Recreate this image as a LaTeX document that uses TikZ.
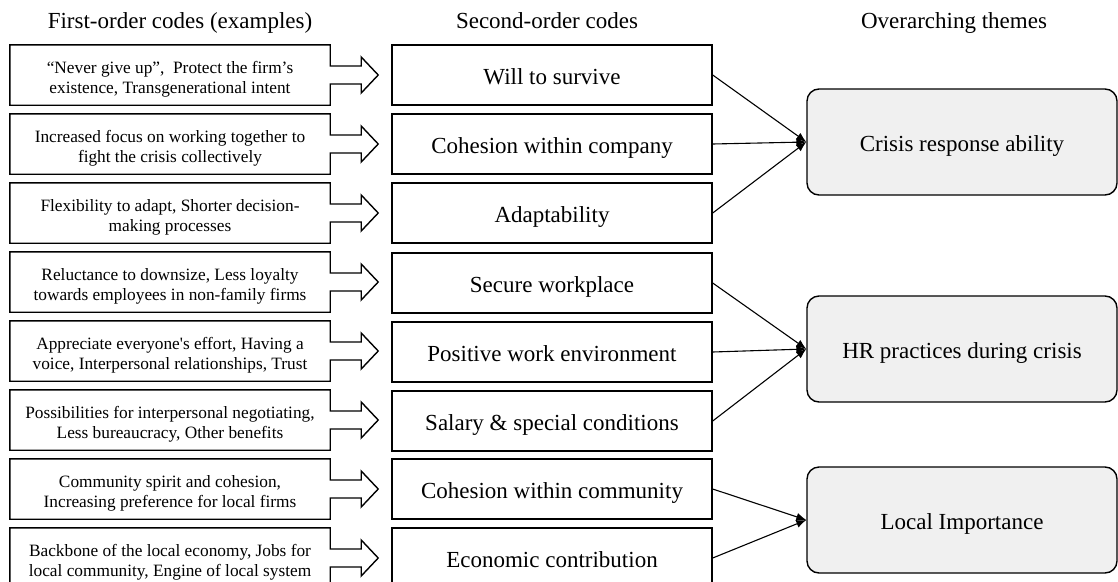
\documentclass[tikz,border=0pt]{standalone}
\usepackage{fontspec}
\setmainfont{Liberation Serif}
\usetikzlibrary{calc,arrows.meta}
\definecolor{themefill}{HTML}{F0F0F0}
\begin{document}
\begin{tikzpicture}[x=1pt,y=-1pt,
  firstbox/.style={minimum width=320pt,minimum height=60pt,inner sep=0pt},
  firsttext/.style={inner sep=0pt,align=center,font=\fontsize{17.3}{20}\selectfont},
  secbox/.style={draw,line width=1.4pt,minimum width=320pt,minimum height=60pt,inner sep=0pt,text height=23pt,text depth=5pt,font=\fontsize{23}{26}\selectfont},
  themebox/.style={draw,line width=1.4pt,fill=themefill,rounded corners=12pt,minimum width=310pt,minimum height=106pt,inner sep=0pt,text height=23pt,text depth=5pt,font=\fontsize{23}{26}\selectfont},
  headtext/.style={font=\fontsize{23}{26}\selectfont,inner sep=0pt,text height=22pt,text depth=5pt},
  link/.style={line width=1.1pt,-{Latex[length=10pt,width=8pt]}},
  outline/.style={line width=1.4pt,line join=miter}]
\useasboundingbox (0,0) rectangle (1118,581);
\clip (0,0) rectangle (1118,581);

% headers
\node[headtext] (h1) at (180,20) {First-order codes (examples)};
\node[headtext] (h2) at (547,20) {Second-order codes};
\node[headtext] (h3) at (954,20) {Overarching themes};

% first-order codes (block arrows)
\foreach \n/\y in {f1/75,f2/144,f3/213,f4/282,f5/351,f6/420,f7/489,f8/558}{
  \node[firstbox] (\n) at (170,\y) {};
  \draw[outline] (\n.north west) -- (\n.north east) -- ($(\n.east)+(0,-9)$)
    -- ++(31,0) -- ++(0,-9) -- ++(17,18) -- ++(-17,18) -- ++(0,-9) -- ++(-31,0)
    -- (\n.south east) -- (\n.south west) -- cycle;
}
\node[firsttext] (ft1) at ($(f1)+(0,4.5)$) {``Never give up'',\ \ Protect the firm's\\existence, Transgenerational intent};
\node[firsttext] (ft2) at ($(f2)+(0,4.5)$) {Increased focus on working together to\\fight the crisis collectively};
\node[firsttext] (ft3) at ($(f3)+(0,4.5)$) {Flexibility to adapt, Shorter decision-\\making processes};
\node[firsttext] (ft4) at ($(f4)+(0,4.5)$) {Reluctance to downsize, Less loyalty\\towards employees in non-family firms};
\node[firsttext] (ft5) at ($(f5)+(0,4.5)$) {Appreciate everyone\textquotesingle s effort, Having a\\voice, Interpersonal relationships, Trust};
\node[firsttext] (ft6) at ($(f6)+(0,4.5)$) {Possibilities for interpersonal negotiating,\\Less bureaucracy, Other benefits};
\node[firsttext] (ft7) at ($(f7)+(0,4.5)$) {Community spirit and cohesion,\\Increasing preference for local firms};
\node[firsttext] (ft8) at ($(f8)+(0,4.5)$) {Backbone of the local economy, Jobs for\\local community, Engine of local system};

% second-order codes
\node[secbox] (s1) at (552,75)  {Will to survive};
\node[secbox] (s2) at (552,144) {Cohesion within company};
\node[secbox] (s3) at (552,213) {Adaptability};
\node[secbox] (s4) at (552,283) {Secure workplace};
\node[secbox] (s5) at (552,352) {Positive work environment};
\node[secbox] (s6) at (552,421) {Salary \& special conditions};
\node[secbox] (s7) at (552,489) {Cohesion within community};
\node[secbox] (s8) at (552,558) {Economic contribution};

% themes
\node[themebox] (t1) at (962,142) {Crisis response ability};
\node[themebox] (t2) at (962,349) {HR practices during crisis};
\node[themebox] (t3) at (962,520) {Local Importance};

% links
\draw[link] (s1.east) -- (t1.west);
\draw[link] (s2.east) -- (t1.west);
\draw[link] (s3.east) -- (t1.west);
\draw[link] (s4.east) -- (t2.west);
\draw[link] (s5.east) -- (t2.west);
\draw[link] (s6.east) -- (t2.west);
\draw[link] (s7.east) -- (t3.west);
\draw[link] (s8.east) -- (t3.west);
\end{tikzpicture}
\end{document}
